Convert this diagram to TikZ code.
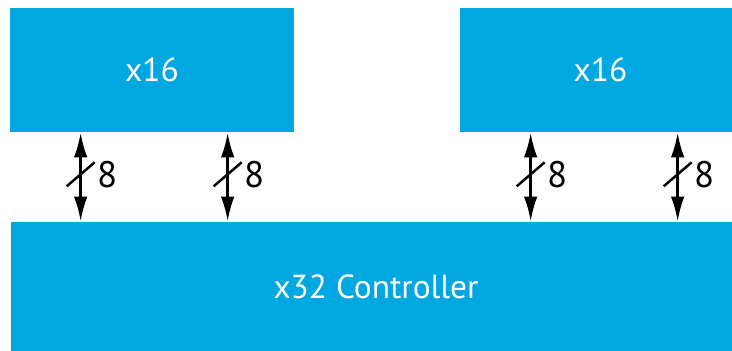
\documentclass[tikz,border=0pt]{standalone}
\usepackage{fontspec}
\setmainfont{PT Sans}
\usetikzlibrary{arrows.meta, positioning, calc}
\definecolor{chipblue}{RGB}{0, 167, 225}

\tikzset{
  chipbox/.style={fill=chipblue, text=white, inner sep=0pt, font=\fontsize{19}{23}\selectfont},
  bus/.style={{Latex[length=0.5cm, width=0.27cm]}-{Latex[length=0.5cm, width=0.27cm]}, line width=1.6pt},
  slashmark/.style={line width=1.4pt},
  buslabel/.style={inner sep=0pt, font=\fontsize{21}{25}\selectfont}
}

\begin{document}
\begin{tikzpicture}
  \clip (0,0) rectangle (14.64,7.0);

  % memory devices
  \node[chipbox, minimum width=5.68cm, minimum height=2.48cm] (memA) at (3.04,5.6) {x16};
  \node[chipbox, minimum width=5.62cm, minimum height=2.48cm] (memB) at (12.01,5.6) {x16};

  % controller
  \node[chipbox, minimum width=14.6cm, minimum height=2.6cm] (ctrl) at (7.52,1.26) {x32 Controller};

  % byte lanes
  \foreach \m/\dx [count=\i] in {memA/1.42, memA/4.36, memB/1.42, memB/4.36} {
    \coordinate (top\i) at ([xshift=\dx cm]\m.south west);
    \coordinate (bot\i) at (top\i |- ctrl.north);
    \draw[bus] (top\i) -- (bot\i) coordinate[pos=0.47] (mid\i);
    \draw[slashmark] ($(mid\i)+(-0.28,-0.24)$) -- ($(mid\i)+(0.28,0.24)$);
    \node[buslabel, right=0.32cm of mid\i] (width\i) {8};
  }
\end{tikzpicture}
\end{document}
